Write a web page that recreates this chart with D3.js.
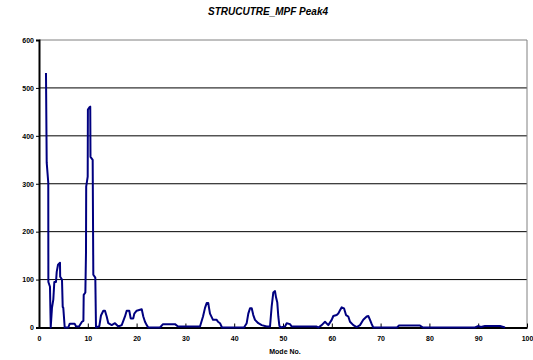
<!DOCTYPE html>
<html>
<head>
<meta charset="utf-8">
<script src="https://cdn.jsdelivr.net/npm/d3@7"></script>
<style>
  body { margin: 0; background: #fff; }
  svg { display: block; font-family: "Liberation Sans", Arial, sans-serif; }
  .title { font-size: 10px; font-weight: bold; font-style: italic; text-anchor: middle; }
  .axis-title { font-size: 7px; font-weight: bold; text-anchor: middle; }
  .tick text { font-size: 7px; font-weight: bold; fill: #000; }
</style>
</head>
<body>
<svg id="chart" width="533" height="360"></svg>
<script>
// mode number / response amplitude
var modes = [1.43, 1.58, 1.9, 1.92, 2.25, 2.4, 2.66, 2.93, 3.14, 3.48, 3.63, 3.9, 4.3, 4.34, 4.71, 4.86, 4.98, 5.27,
  6.0, 6.3, 7.3, 7.6, 8.2, 8.8, 9.1,
  9.16, 9.5, 9.63, 9.67, 9.98, 10.02, 10.3, 10.5, 10.55, 11.0, 11.13, 11.54, 11.68,
  12.36, 12.7, 13.18, 13.52, 13.87, 14.2, 14.9, 15.57, 16.25, 16.95, 17.62, 17.97, 18.5, 18.79, 19.32, 19.53,
  20.02, 21.05, 21.37, 21.72, 22.07, 22.4, 24.8, 25.41, 27.87, 28.48, 32.99, 33.61, 34.02, 34.36, 34.69, 34.84,
  35.04, 35.66, 36.41, 36.68, 37.09, 37.5, 42.01, 42.56, 42.89, 43.24, 43.59, 43.91, 44.26, 44.94, 45.64, 46.66,
  47.34, 47.68, 48.01, 48.36, 48.57, 48.83, 49.04, 49.24, 49.39, 50.41, 50.76, 51.43, 51.78, 56.91, 57.23, 57.93,
  58.61, 59.28, 59.98, 60.31, 61.0, 61.33, 61.68, 62.03, 62.5, 62.91, 63.38, 63.73, 64.41, 65.1, 65.78, 66.45,
  67.15, 67.48, 67.83, 68.18, 68.5, 73.36, 73.77, 78.07, 78.69, 89.34, 89.96, 90.57, 91.39, 94.47, 95.49];
var values = [531, 344, 302, 95, 85, 0, 41, 58, 95, 95, 116, 131, 135, 106, 100, 43, 41, 0,
  0, 8, 8, 2, 2, 12, 14,
  68, 73, 156, 294, 315, 455, 459, 461, 356, 350, 110, 104, 0,
  3, 25, 35, 35, 23, 9, 5, 9, 2, 5, 23, 35, 35, 19, 19, 29,
  35, 38, 23, 12, 5, 0, 0, 7, 7, 2, 2, 23, 41, 51, 51, 41,
  29, 16, 16, 12, 9, 0, 0, 9, 29, 40, 40, 26, 16, 9, 5, 2,
  2, 44, 73, 76, 63, 52, 23, 5, 0, 2, 9, 7, 2, 2, 0, 5,
  12, 5, 16, 24, 26, 29, 36, 42, 40, 26, 23, 12, 5, 1, 5, 16,
  23, 24, 16, 7, 0, 0, 4, 4, 0, 0, 3, 1, 3, 3, 0];
var xTicks = [0, 10, 20, 30, 40, 50, 60, 70, 80, 90, 100];
var yTicks = [0, 100, 200, 300, 400, 500, 600];

var svg = d3.select("#chart"),
    plotLeft = 39, plotRight = 527, plotTop = 40, plotBottom = 327.5;

var x = d3.scaleLinear().domain([0, 100]).range([plotLeft, plotRight]);
var y = d3.scaleLinear().domain([0, 600]).range([plotBottom, plotTop]);

svg.append("text").attr("class", "title").attr("x", 268).attr("y", 15).text("STRUCUTRE_MPF Peak4");

// gridlines
svg.append("g").selectAll("line")
  .data(yTicks.slice(1, -1))
  .enter().append("line")
    .attr("x1", plotLeft).attr("x2", plotRight)
    .attr("y1", function(d) { return y(d); }).attr("y2", function(d) { return y(d); })
    .attr("stroke", "#000").attr("stroke-width", 1);

// plot frame (top and right in grey)
svg.append("path")
  .attr("d", "M" + plotLeft + "," + plotTop + "H" + plotRight + "V" + plotBottom)
  .attr("fill", "none").attr("stroke", "#808080").attr("stroke-width", 1);

var xAxis = svg.append("g")
  .attr("transform", "translate(0," + plotBottom + ")")
  .call(d3.axisBottom(x).tickValues(xTicks).tickSize(0).tickPadding(9));
xAxis.select(".domain").attr("stroke-width", 2);
xAxis.selectAll(".tick").append("line").attr("y1", 0).attr("y2", -4).attr("stroke", "#000");

var yAxis = svg.append("g")
  .attr("transform", "translate(" + plotLeft + ",0)")
  .call(d3.axisLeft(y).tickValues(yTicks).tickSize(3).tickPadding(2));
yAxis.select(".domain").attr("stroke-width", 2);

svg.append("text").attr("class", "axis-title").attr("x", 285).attr("y", 354).text("Mode No.");

var line = d3.line()
  .x(function(d) { return x(d[0]); })
  .y(function(d) { return y(d[1]); });

svg.append("path")
  .datum(d3.zip(modes, values))
  .attr("d", line)
  .attr("fill", "none")
  .attr("stroke", "#000080")
  .attr("stroke-width", 2)
  .attr("stroke-linejoin", "round");
</script>
</body>
</html>
